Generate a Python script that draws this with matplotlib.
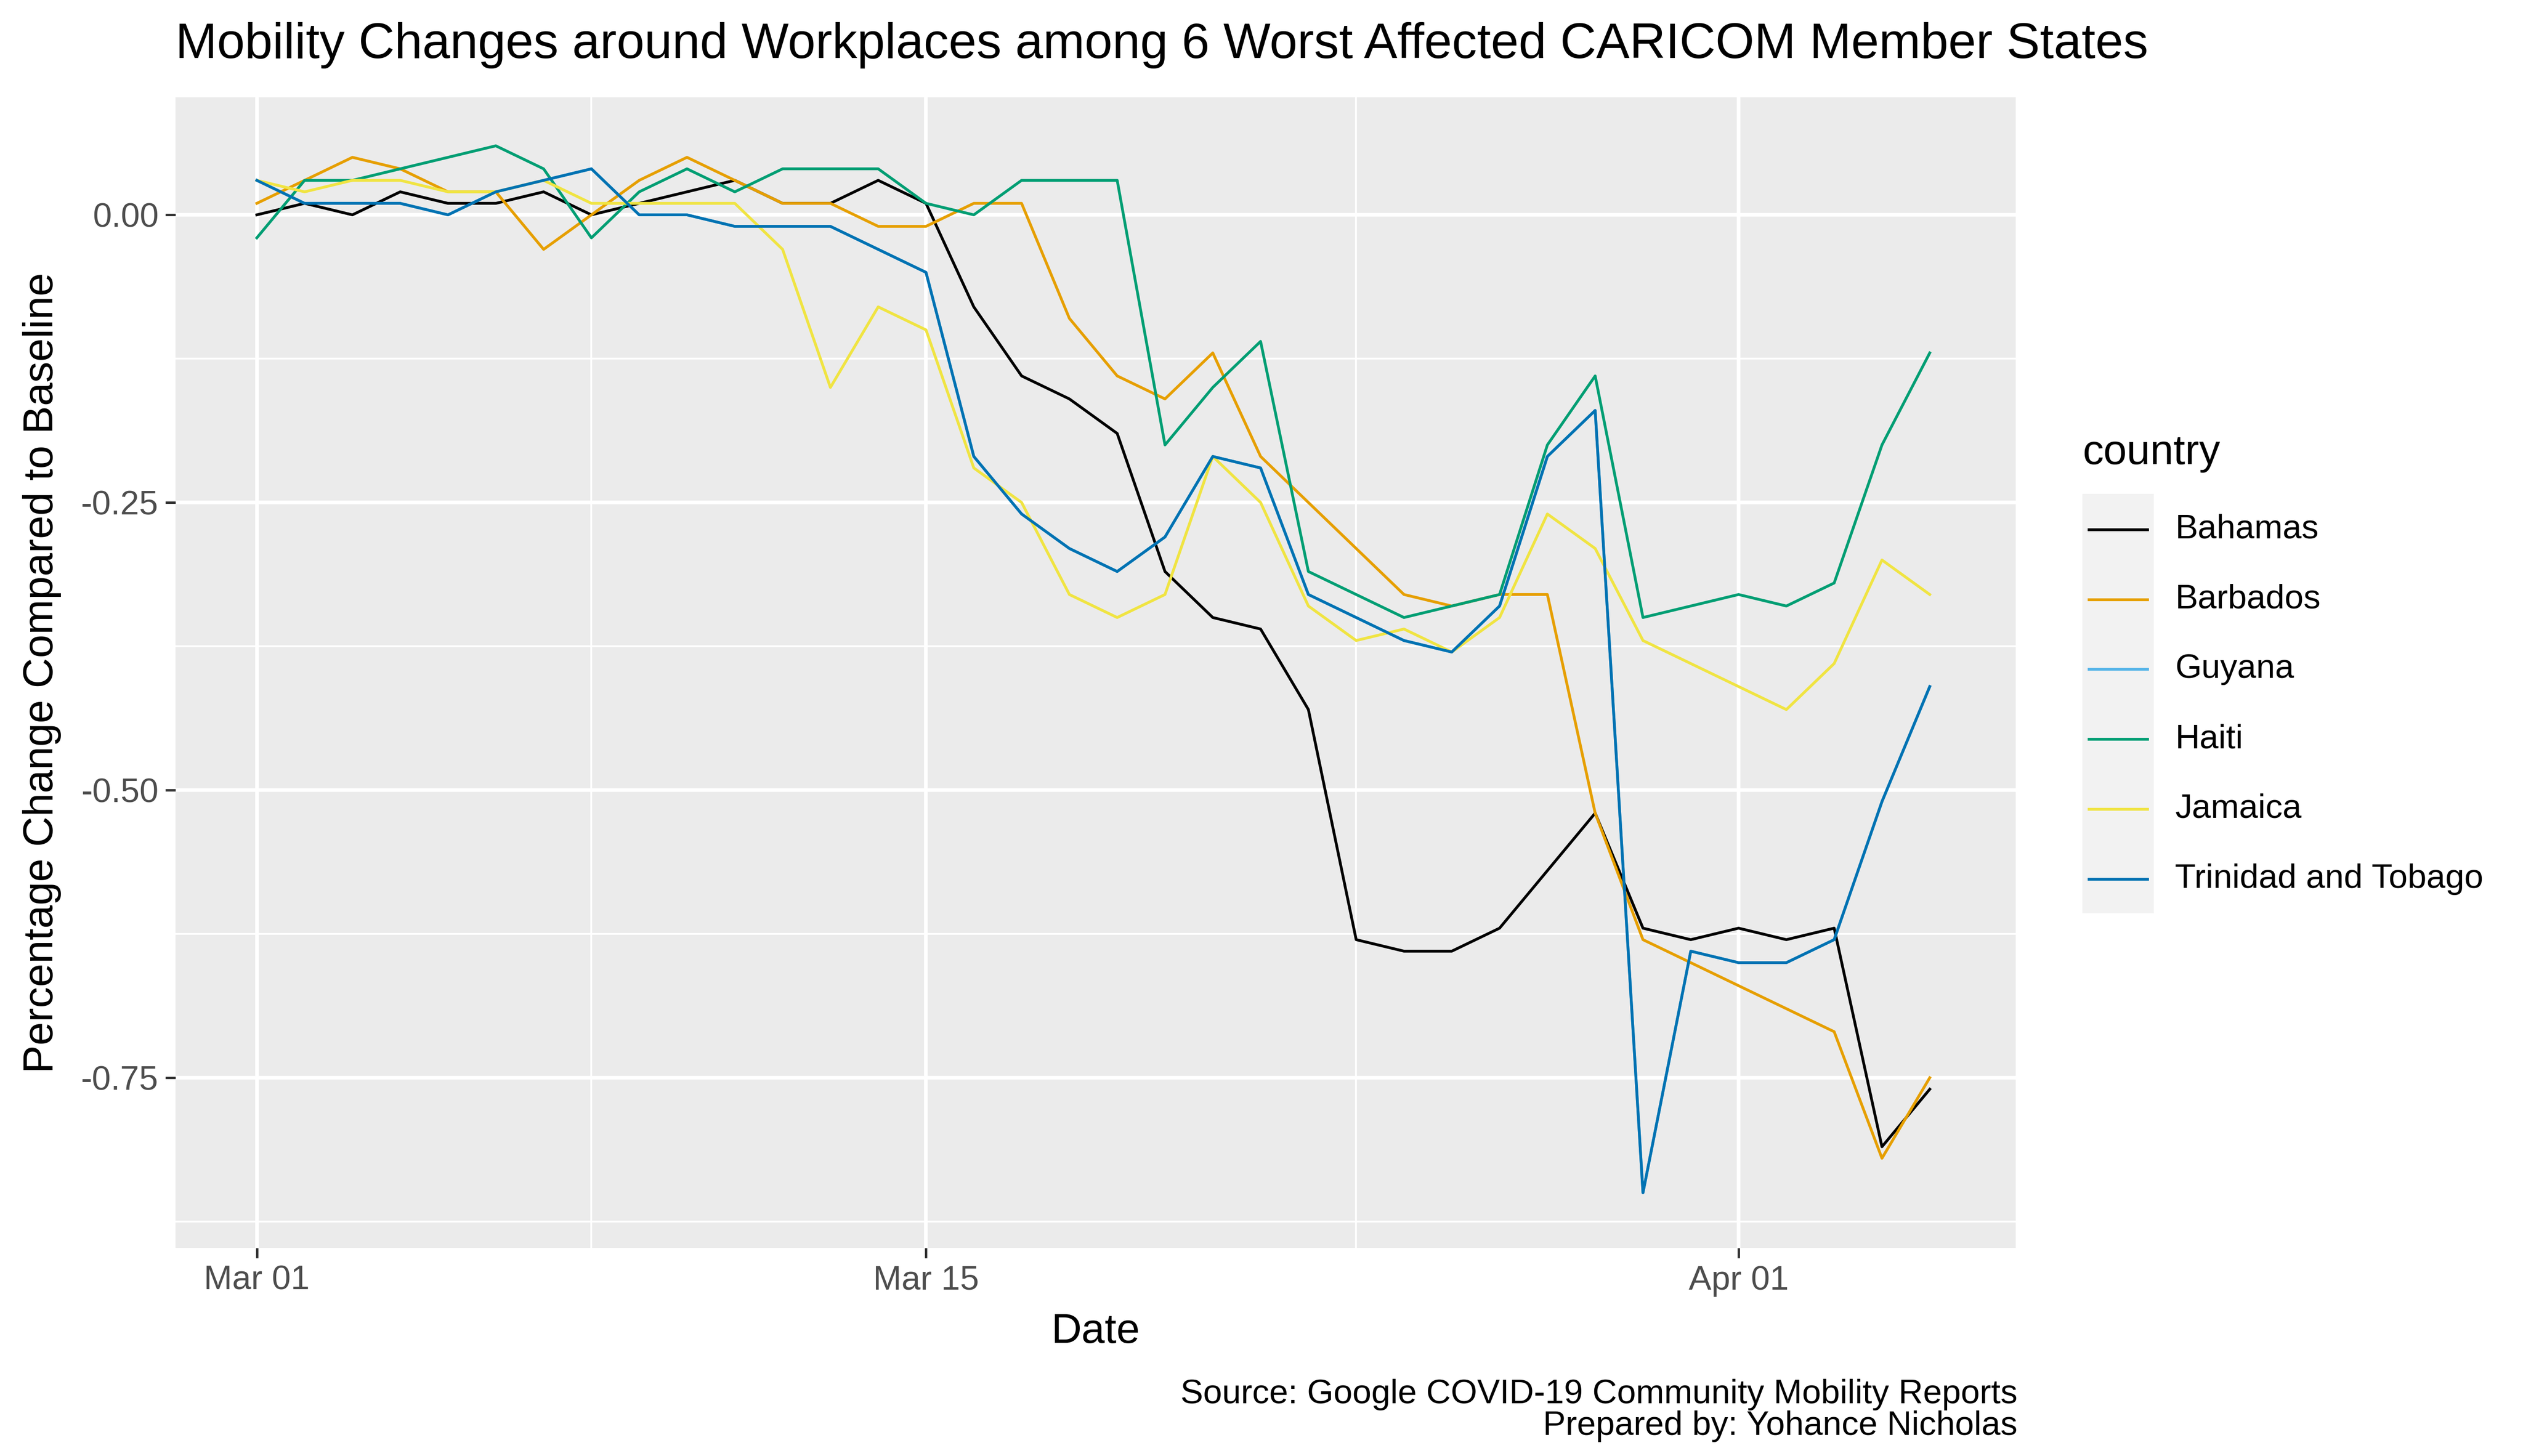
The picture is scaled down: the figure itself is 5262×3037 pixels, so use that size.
import matplotlib
matplotlib.use("Agg")
import matplotlib.pyplot as plt
import pandas as pd
from matplotlib.patches import Rectangle

plt.rcParams['font.family'] = ['Liberation Sans', 'DejaVu Sans']

dates = pd.date_range("2020-03-01", "2020-04-05", freq="D")
bahamas = [0,0.01,0,0.02,0.01,0.01,0.02,0,0.01,0.02,0.03,0.01,0.01,0.03,0.01,-0.08,-0.14,-0.16,-0.19,-0.31,-0.35,-0.36,-0.43,-0.63,-0.64,-0.64,-0.62,-0.57,-0.52,-0.62,-0.63,-0.62,-0.63,-0.62,-0.81,-0.76]
barbados = [0.01,0.03,0.05,0.04,0.02,0.02,-0.03,0,0.03,0.05,0.03,0.01,0.01,-0.01,-0.01,0.01,0.01,-0.09,-0.14,-0.16,-0.12,-0.21,-0.25,-0.29,-0.33,-0.34,-0.33,-0.33,-0.52,-0.63,-0.65,-0.67,-0.69,-0.71,-0.82,-0.75]
guyana = [0.03,0.01,0.01,0.01,0,0.02,0.03,0.04,0,0,-0.01,-0.01,-0.01,-0.03,-0.05,-0.21,-0.26,-0.29,-0.31,-0.28,-0.21,-0.22,-0.33,-0.35,-0.37,-0.38,-0.34,-0.21,-0.17,-0.85,-0.64,-0.65,-0.65,-0.63,-0.51,-0.41]
haiti = [-0.02,0.03,0.03,0.04,0.05,0.06,0.04,-0.02,0.02,0.04,0.02,0.04,0.04,0.04,0.01,0,0.03,0.03,0.03,-0.2,-0.15,-0.11,-0.31,-0.33,-0.35,-0.34,-0.33,-0.2,-0.14,-0.35,-0.34,-0.33,-0.34,-0.32,-0.2,-0.12]
jamaica = [0.03,0.02,0.03,0.03,0.02,0.02,0.03,0.01,0.01,0.01,0.01,-0.03,-0.15,-0.08,-0.1,-0.22,-0.25,-0.33,-0.35,-0.33,-0.21,-0.25,-0.34,-0.37,-0.36,-0.38,-0.35,-0.26,-0.29,-0.37,-0.39,-0.41,-0.43,-0.39,-0.30,-0.33]
trinidad = [0.03,0.01,0.01,0.01,0,0.02,0.03,0.04,0,0,-0.01,-0.01,-0.01,-0.03,-0.05,-0.21,-0.26,-0.29,-0.31,-0.28,-0.21,-0.22,-0.33,-0.35,-0.37,-0.38,-0.34,-0.21,-0.17,-0.85,-0.64,-0.65,-0.65,-0.63,-0.51,-0.41]

countries = ["Bahamas","Barbados","Guyana","Haiti","Jamaica","Trinidad and Tobago"]
series = [bahamas,barbados,guyana,haiti,jamaica,trinidad]
colors = ["#000000","#E69F00","#56B4E9","#009E73","#F0E442","#0072B2"]

W, H = 1552, 896
fig = plt.figure(figsize=(5262/300, 3037/300), dpi=300)
ax = fig.add_axes([108/W, 1-768/H, (1240-108)/W, (768-60)/H])
ax.set_facecolor("#EBEBEB")
for s in ax.spines.values():
    s.set_visible(False)

for name, vals, c in zip(countries, series, colors):
    ax.plot(dates, vals, color=c, lw=1.4, label=name)

x0 = pd.Timestamp("2020-03-01")
ax.set_xlim(x0 - pd.Timedelta(days=1.7), x0 + pd.Timedelta(days=36.8))
ax.set_ylim(-0.898, 0.102)
ticks = [pd.Timestamp("2020-03-01"), pd.Timestamp("2020-03-15"), pd.Timestamp("2020-04-01")]
minor = [pd.Timestamp("2020-03-08"), pd.Timestamp("2020-03-24")]
ax.set_xticks(ticks)
ax.set_xticklabels(["Mar 01","Mar 15","Apr 01"])
ax.set_xticks(minor, minor=True)
ax.set_yticks([0,-0.25,-0.5,-0.75])
ax.set_yticklabels(["0.00","-0.25","-0.50","-0.75"])
ax.set_yticks([-0.125,-0.375,-0.625,-0.875], minor=True)
ax.grid(which="major", color="white", lw=1.8)
ax.grid(which="minor", color="white", lw=0.9)
ax.set_axisbelow(True)
ax.tick_params(which="major", length=5, width=1.2, color="#333333", labelsize=17, labelcolor="#4D4D4D")
ax.tick_params(which="minor", length=0)
ax.set_xlabel("Date", fontsize=21, labelpad=8)
ax.set_ylabel("Percentage Change Compared to Baseline", fontsize=21, labelpad=10)
fig.text(108/W, 1-28/H, "Mobility Changes around Workplaces among 6 Worst Affected CARICOM Member States",
         fontsize=25, va="center", ha="left")
fig.text(1241/W, 1-868/H, "Source: Google COVID-19 Community Mobility Reports\nPrepared by: Yohance Nicholas",
         fontsize=17, ha="right", va="center", linespacing=1.0)

# legend
fig.text(1281/W, 1-279/H, "country", fontsize=21, va="center", ha="left")
fig.patches.append(Rectangle((1281/W, 1-562/H), 44/W, (562-304)/H, transform=fig.transFigure,
                             facecolor="#F2F2F2", edgecolor="none"))
for i, (name, c) in enumerate(zip(countries, colors)):
    yc = 1-(326+i*43)/H
    fig.lines.append(plt.Line2D([1285/W, 1321/W], [yc, yc], transform=fig.transFigure, color=c, lw=1.4))
    fig.text(1338/W, yc, name, fontsize=17, va="center", ha="left")
fig.savefig("out.png", dpi=300)
